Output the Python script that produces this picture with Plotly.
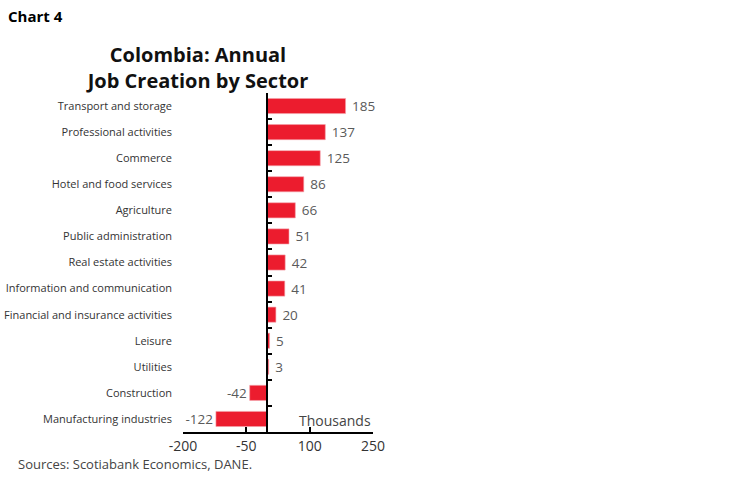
import plotly.graph_objects as go

categories = [
    "Transport and storage",
    "Professional activities",
    "Commerce",
    "Hotel and food services",
    "Agriculture",
    "Public administration",
    "Real estate activities",
    "Information and communication",
    "Financial and insurance activities",
    "Leisure",
    "Utilities",
    "Construction",
    "Manufacturing industries",
]
values = [185, 137, 125, 86, 66, 51, 42, 41, 20, 5, 3, -42, -122]
x_ticks = [-200, -50, 100, 250]
x_tick_text = ["-200", "-50", "100", "250"]

W, H = 749, 482
L, R, T, B = 183, 373, 93, 432


def px_x(p):
    return (p - L) / (R - L)


def px_y(p):
    return (B - p) / (B - T)


labels = [f" {v}" if v >= 0 else f"{v}" for v in values]

fig = go.Figure()
fig.add_trace(go.Bar(
    x=values, y=categories, orientation="h",
    marker=dict(color="#EC1C2E", line=dict(color="#F4A0A8", width=0.6)),
    text=labels, textposition="outside", cliponaxis=False,
    constraintext="none",
    textfont=dict(family="Open Sans", size=13.5, color="#5a5a5a"),
    showlegend=False, hoverinfo="skip",
))
fig.add_trace(go.Scatter(
    x=[0], y=[0], yaxis="y2", mode="markers",
    marker=dict(opacity=0), showlegend=False, hoverinfo="skip",
))

n = len(categories)
fig.update_layout(
    width=W, height=H,
    margin=dict(l=L, r=W - R, t=T, b=H - B, pad=0, autoexpand=False),
    paper_bgcolor="white", plot_bgcolor="white",
    bargap=0.42,
    font=dict(family="Open Sans", color="#333333"),
    title=dict(
        text="<b>Colombia: Annual<br>Job Creation by Sector</b>",
        x=198 / W, xanchor="center", xref="container",
        y=1 - 62 / H, yanchor="top", yref="container",
        font=dict(family="Open Sans", size=20, color="#111111"),
    ),
    xaxis=dict(
        range=[-200, 250], tickvals=x_ticks, ticktext=x_tick_text,
        ticks="inside", ticklen=5, automargin=False,
        tickwidth=1.5, tickcolor="black", showline=True, linecolor="black",
        linewidth=2, showgrid=False, zeroline=False,
        tickfont=dict(family="Open Sans", size=14, color="#333333"),
    ),
    yaxis=dict(
        type="category", categoryorder="array", categoryarray=categories,
        range=[n - 0.5, -0.5], showgrid=False, showline=False, ticks="",
        ticklabelstandoff=10, automargin=False,
        tickfont=dict(family="Open Sans", size=11, color="#333333"),
    ),
    yaxis2=dict(
        overlaying="y", anchor="free", position=200 / 450,
        range=[n - 0.5, -0.5], tickvals=[i - 0.5 for i in range(n + 1)],
        ticks="inside", ticklen=4, tickwidth=1.5, tickcolor="black",
        showticklabels=False, showline=True, linecolor="black", linewidth=2,
        showgrid=False, zeroline=False, automargin=False,
    ),
    annotations=[
        dict(text="<b>Chart 4</b>", xref="paper", yref="paper",
             x=px_x(6), y=px_y(4), xanchor="left", yanchor="top",
             showarrow=False, font=dict(family="Open Sans", size=15, color="black")),
        dict(text="Thousands", xref="x", yref="paper", x=250, y=0,
             xanchor="right", yanchor="bottom", showarrow=False,
             font=dict(family="Open Sans", size=14, color="#444444")),
        dict(text="Sources: Scotiabank Economics, DANE.", xref="paper", yref="paper",
             x=px_x(16), y=px_y(453), xanchor="left", yanchor="top",
             showarrow=False, font=dict(family="Open Sans", size=13, color="#444444")),
    ],
)

fig.write_html(
    "out.html",
    config={"displayModeBar": False},
    post_script="document.body.style.margin='0';document.body.style.overflow='hidden';",
)
